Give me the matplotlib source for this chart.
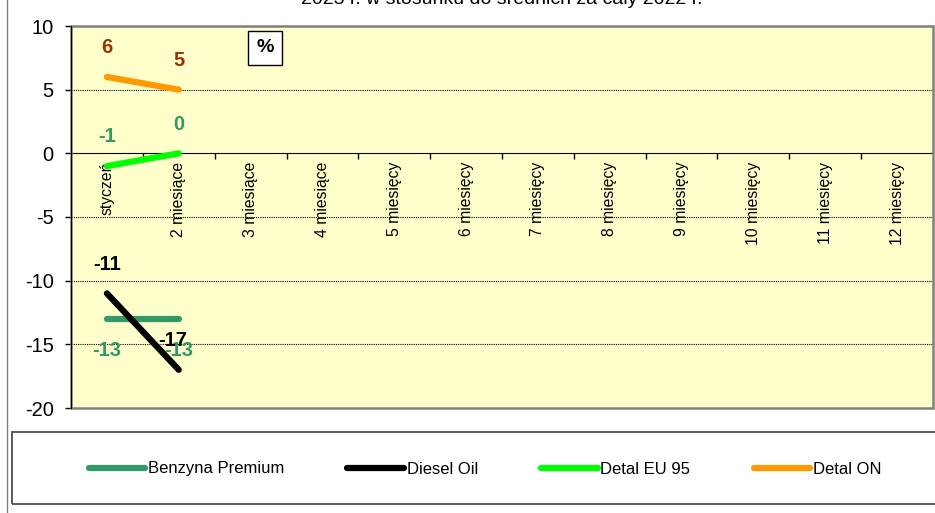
import matplotlib
matplotlib.use("Agg")
import matplotlib.pyplot as plt
from matplotlib.patches import Rectangle
from matplotlib.lines import Line2D

plt.rcParams['font.family'] = ['Liberation Sans', 'DejaVu Sans']

months = ['styczeń', '2 miesiące', '3 miesiące', '4 miesiące', '5 miesięcy', '6 miesięcy',
          '7 miesięcy', '8 miesięcy', '9 miesięcy', '10 miesięcy', '11 miesięcy', '12 miesięcy']
benzyna = [-13, -13]
diesel = [-11, -17]
detal_eu95 = [-1, 0]
detal_on = [6, 5]
yticks = [-20, -15, -10, -5, 0, 5, 10]

fig = plt.figure(figsize=(9.35, 5.13), dpi=100)
ax = fig.add_axes([71/935, 1-408/513, 862/935, 382/513])
ax.set_facecolor('#FFFFCC')

x = list(range(len(benzyna)))
ax.plot(x, benzyna, color='#339966', lw=4.5, solid_capstyle='round', label='Benzyna Premium', zorder=3)
ax.plot(x, diesel, color='black', lw=4.5, solid_capstyle='round', label='Diesel Oil', zorder=4)
ax.plot(x, detal_eu95, color='#00FF00', lw=4.5, solid_capstyle='round', label='Detal EU 95', zorder=3)
ax.plot(x, detal_on, color='#FF9900', lw=4.5, solid_capstyle='round', label='Detal ON', zorder=3)

# value labels
lab = dict(fontsize=14.5, fontweight='bold', ha='center', textcoords='offset points')
for i, v in enumerate(detal_on):
    ax.annotate(str(v), (i, v), xytext=(0, 21), va='center', color='#993300', **lab)
for i, v in enumerate(detal_eu95):
    ax.annotate(str(v), (i, v), xytext=(0, 21), va='center', color='#339966', **lab)
for i, v in enumerate(diesel):
    ax.annotate(str(v), (i, v), xytext=(-4 * i, 21), va='center', color='black', zorder=6, **lab)
for i, v in enumerate(benzyna):
    ax.annotate(str(v), (i, v), xytext=(0, -23), va='center', color='#339966', zorder=5, **lab)

ax.set_xlim(-0.5, len(months) - 0.5)
ax.set_ylim(-20, 10)
ax.set_yticks(yticks)
ax.set_yticklabels([str(t) for t in yticks], fontsize=14.5)
ax.tick_params(axis='y', direction='out', length=4.5, width=1, pad=8)

for yv in [5, -5, -10, -15]:
    ax.axhline(yv, color='black', lw=0.8, ls=(0, (1, 1)), zorder=1)

ax.spines['bottom'].set_position(('data', 0))
ax.spines['bottom'].set_color('black')
ax.spines['left'].set_color('black')
ax.spines['top'].set_visible(False)
ax.spines['right'].set_visible(False)
ax.set_xticks(range(len(months)))
ax.set_xticklabels(months, rotation=90, fontsize=11.3)
ax.set_xticks([i + 0.5 for i in range(len(months) - 1)], minor=True)
ax.tick_params(axis='x', which='major', length=0, pad=6)
ax.tick_params(axis='x', which='minor', direction='out', length=4, width=1)

# plot area border
ax.add_patch(Rectangle((0, 0), 1, 1, transform=ax.transAxes, fill=False,
                       edgecolor='#808080', lw=1.8, zorder=7, clip_on=False))
ax.spines['left'].set_zorder(8)

ax.text(0.225, 0.943, '%', transform=ax.transAxes, fontsize=14, fontweight='bold',
        ha='center', va='center',
        bbox=dict(boxstyle='square,pad=0.45', fc='white', ec='black', lw=1))

fig.text(502/935, 1 + 1/513, '2023 r. w stosunku do średnich za cały 2022 r.',
         ha='center', va='center', fontsize=14)

# legend frame and left border
fig.add_artist(Rectangle((12/935, 1-504/513), 1, 72/513, transform=fig.transFigure,
                         fill=False, edgecolor='#404040', lw=1.2))
fig.add_artist(Line2D([6.5/935, 6.5/935], [0, 1], transform=fig.transFigure, color='#808080', lw=1))

handles, labels = ax.get_legend_handles_labels()
fig.legend(handles, labels, loc='center', bbox_to_anchor=(485/935, 1-469/513), ncol=4,
           frameon=False, fontsize=12, handlelength=3.4, handletextpad=0.15,
           columnspacing=3.8)

fig.savefig('out.png', dpi=100)
